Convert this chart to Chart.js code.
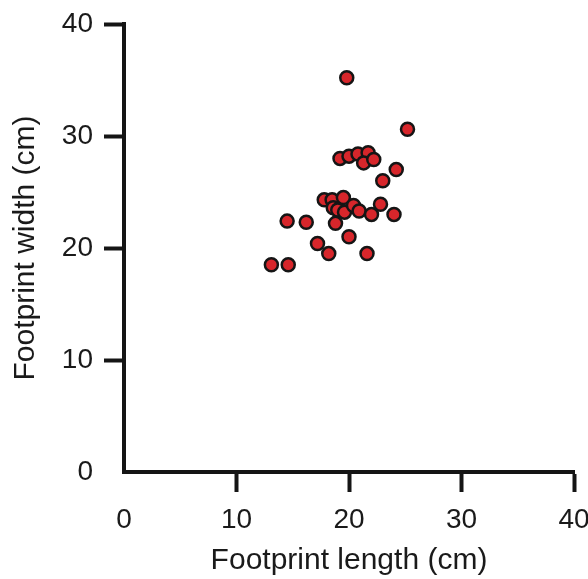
<!DOCTYPE html>
<html>
<head>
<meta charset="utf-8">
<title>Footprint size</title>
<script src="https://cdn.jsdelivr.net/npm/chart.js@4.4.1/dist/chart.umd.min.js"></script>
<style>
    html, body { margin: 0; padding: 0; background: #fff; }
    #wrap { width: 588px; height: 579px; }
</style>
</head>
<body>
<div id="wrap"><canvas id="footprintChart"></canvas></div>
<script>
// footprint measurements, one entry per track
const lengthCm = [19.8, 25.2, 19.2, 20.0, 20.8, 21.7, 21.3, 22.2, 24.2, 23.0,
                  17.8, 18.5, 19.5, 18.6, 19.0, 19.6, 20.4, 20.9, 22.0, 22.8,
                  24.0, 18.8, 14.5, 16.2, 20.0, 17.2, 18.2, 21.6, 13.1, 14.6];
const widthCm  = [35.2, 30.6, 28.0, 28.2, 28.4, 28.5, 27.6, 27.9, 27.0, 26.0,
                  24.3, 24.3, 24.5, 23.6, 23.4, 23.2, 23.8, 23.3, 23.0, 23.9,
                  23.0, 22.2, 22.4, 22.3, 21.0, 20.4, 19.5, 19.5, 18.5, 18.5];
const axisTicks = [0, 10, 20, 30, 40];

const ink = '#151515';
const fontFamily = 'Arial, "Liberation Sans", Helvetica, sans-serif';

// no tick mark at the origin, only the label
const tickColor = ctx => (ctx.tick && ctx.tick.value === 0) ? 'rgba(0,0,0,0)' : ink;

function axis(titleText, titlePadding, fitFn) {
    return {
        type: 'linear',
        min: axisTicks[0],
        max: axisTicks[axisTicks.length - 1],
        afterBuildTicks: scale => { scale.ticks = axisTicks.map(v => ({ value: v })); },
        afterFit: fitFn,
        border: { display: true, color: ink, width: 4 },
        grid: {
            drawOnChartArea: false,
            drawTicks: true,
            tickLength: 20,
            tickWidth: 4,
            tickColor: tickColor
        },
        ticks: {
            color: '#1a1a1a',
            padding: 11,
            font: { family: fontFamily, size: 28 }
        },
        title: {
            display: true,
            text: titleText,
            color: '#1a1a1a',
            padding: titlePadding,
            font: { family: fontFamily, size: 30 }
        }
    };
}

// fixed axis boxes so the plot area sits at the same place every time
function fitX(s) {
    s.height = 107;
    s.paddingLeft = 0;
    s.paddingRight = 0;
}
function fitY(s) {
    s.width = 124;
    s.paddingTop = 0;
    s.paddingBottom = 0;
}

const points = lengthCm.map((x, i) => ({ x: x, y: widthCm[i] }));

new Chart(document.getElementById('footprintChart').getContext('2d'), {
    type: 'scatter',
    data: {
        datasets: [{
            label: 'Footprints',
            data: points,
            backgroundColor: '#d7262b',
            borderColor: ink,
            borderWidth: 2.5,
            pointRadius: 6.5,
            pointHoverRadius: 6.5
        }]
    },
    options: {
        responsive: true,
        maintainAspectRatio: false,
        animation: false,
        layout: { padding: { left: 0, top: 24, right: 14, bottom: 0 } },
        scales: {
            x: axis('Footprint length (cm)', { top: 0, bottom: 0 }, fitX),
            y: axis('Footprint width (cm)', { top: 8, bottom: 0 }, fitY)
        },
        plugins: {
            legend: { display: false },
            tooltip: { enabled: false }
        }
    }
});
</script>
</body>
</html>
